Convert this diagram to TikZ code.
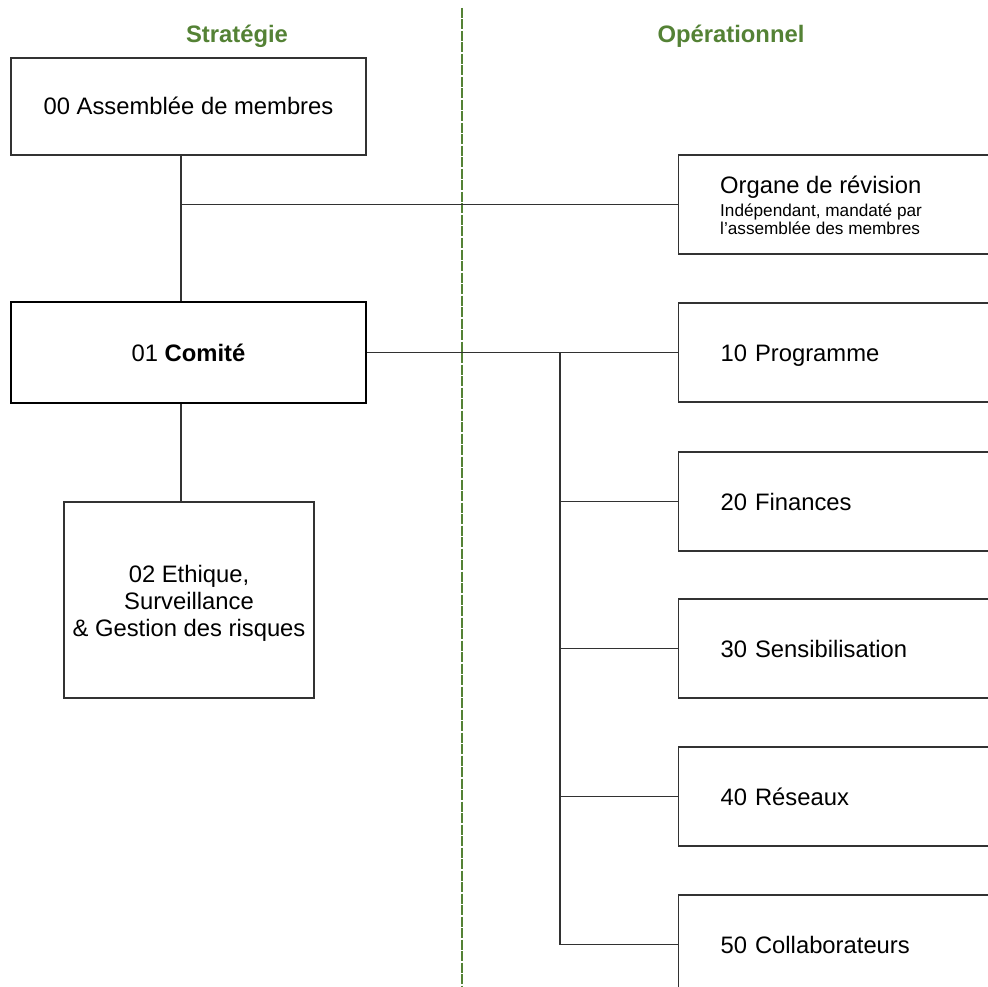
\documentclass[tikz,border=0pt]{standalone}
\usepackage{fontspec}
\setmainfont{Liberation Sans}
\definecolor{hdr}{RGB}{84,130,53}
\definecolor{edge}{RGB}{50,50,50}
\begin{document}
\begin{tikzpicture}[x=1pt,y=-1pt,
  big/.style={font=\fontsize{23.8}{27}\selectfont},
  small/.style={font=\fontsize{17.2}{19}\selectfont},
  box/.style={draw=edge, line width=1.3pt, rectangle, inner sep=0pt, big, align=center},
  onel/.style={text height=17pt, text depth=0pt},
  rbox/.style={box, onel, anchor=west, minimum width=340pt, minimum height=99pt,
    text width=256pt, inner xsep=42pt, align=left},
  head/.style={big, text=hdr, anchor=base, inner sep=0pt},
  conn/.style={draw=edge, line width=1.2pt},
  divider/.style={draw=hdr, line width=1.6pt, dash pattern=on 10pt off 1.5pt}
]
\useasboundingbox (0,0) rectangle (988,987);
\fill[white] (0,0) rectangle (988,987);

% headers
\node[head] (hs) at (237,43) {\bfseries Stratégie};
\node[head] (ho) at (731,43) {\bfseries Opérationnel};

% divider
\coordinate (dtop) at (462,8);
\coordinate (dbot) at (462,987);
\draw[divider] (dtop) -- (dbot);

% strategy boxes
\node[box, onel, minimum width=355pt, minimum height=97pt] (m00) at (188.5,106.5) {00 Assemblée de membres};
\node[box, onel, minimum width=355pt, minimum height=101pt, line width=2.6pt, draw=black] (m01) at (188.5,352.5) {01 \textbf{Comité}};
\node[box, minimum width=250pt, minimum height=196pt] (m02) at (189,600) {\rule{0pt}{23pt}02 Ethique,\\Surveillance\\\& Gestion des risques};

% revision box
\node[box, anchor=west, minimum width=340pt, minimum height=99pt] (org) at (678,204.5) {};
\node[big, anchor=base west, inner sep=0pt] (orgt) at (720,194) {Organe de révision};
\node[small, anchor=base west, inner sep=0pt] (orgs1) at (720,217) {Indépendant, mandaté par};
\node[small, anchor=base west, inner sep=0pt] (orgs2) at (720,235) {l’assemblée des membres};

% operational boxes
\node[rbox] (p10) at (678,352.5) {10 Programme};
\node[rbox] (p20) at (678,501.5) {20 Finances};
\node[rbox] (p30) at (678,648.5) {30 Sensibilisation};
\node[rbox] (p40) at (678,796.5) {40 Réseaux};
\node[rbox] (p50) at (678,944.5) {50 Collaborateurs};

% connectors
\coordinate (j0) at (181,204.5);
\coordinate (bus) at (560,352.5);
\draw[conn] (m00.south -| j0) -- (m01.north -| j0);
\draw[conn] (j0) -- (org.west);
\draw[conn] (m01.south -| j0) -- (m02.north -| j0);
\draw[conn] (m01.east) -- (p10.west);
\draw[conn] (bus) |- (p50.west);
\draw[conn] (bus |- p20.west) -- (p20.west);
\draw[conn] (bus |- p30.west) -- (p30.west);
\draw[conn] (bus |- p40.west) -- (p40.west);
\end{tikzpicture}
\end{document}
